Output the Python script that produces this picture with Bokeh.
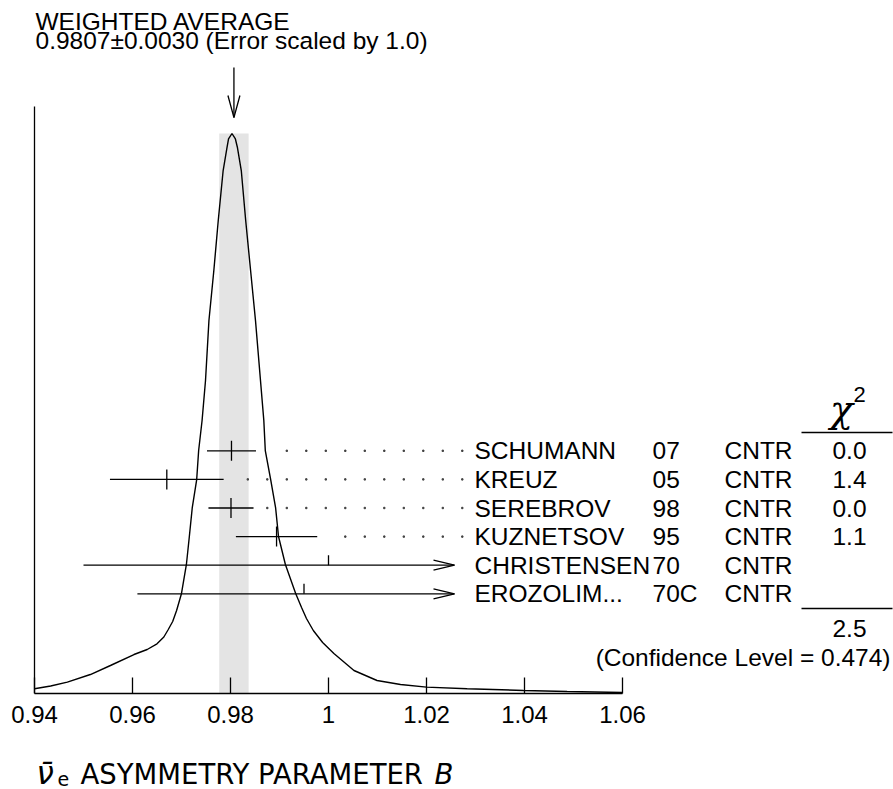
from bokeh.plotting import figure
from bokeh.models import LinearAxis, FixedTicker, Range1d
from bokeh.layouts import column
from bokeh.embed import file_html
from bokeh.resources import INLINE
from bokeh.core.properties import value

# ---------------- data ----------------
curve_x = [0.9400, 0.9433, 0.9467, 0.9514, 0.9555, 0.9603, 0.9630, 0.9650, 0.9664,
           0.9673, 0.9682, 0.9690, 0.9700, 0.9710, 0.9716, 0.9722, 0.9731, 0.9735,
           0.9742, 0.9749, 0.9756, 0.9766, 0.9775, 0.9785, 0.9793, 0.9796, 0.9803,
           0.9810, 0.9814, 0.9822, 0.9831, 0.9841, 0.9851, 0.9868, 0.9871, 0.9882,
           0.9892, 0.9898, 0.9912, 0.9933, 0.9945, 0.9955, 0.9969, 0.9988, 1.0011,
           1.0052, 1.0099, 1.0147, 1.0200, 1.0283, 1.0398, 1.0487, 1.0600]
curve_y = [0.0084, 0.0134, 0.0202, 0.0339, 0.0500, 0.0696, 0.0786, 0.0888, 0.1009,
           0.1143, 0.1286, 0.1482, 0.1786, 0.2304, 0.2804, 0.3321, 0.3821, 0.4339,
           0.4875, 0.5589, 0.6661, 0.7554, 0.8446, 0.9339, 0.9755, 0.9902, 1.0000,
           0.9902, 0.9755, 0.9339, 0.8446, 0.7554, 0.6661, 0.4875, 0.4339, 0.3821,
           0.3321, 0.2804, 0.2304, 0.1786, 0.1536, 0.1339, 0.1125, 0.0911, 0.0714,
           0.0411, 0.0232, 0.0161, 0.0113, 0.0084, 0.0054, 0.0036, 0.0018]

names = ["SCHUMANN", "KREUZ", "SEREBROV", "KUZNETSOV", "CHRISTENSEN", "EROZOLIM..."]
years = ["07", "05", "98", "95", "70", "70C"]
techs = ["CNTR", "CNTR", "CNTR", "CNTR", "CNTR", "CNTR"]
values = [0.9802, 0.9670, 0.9801, 0.9894, 1.0000, 0.9950]
errors = [0.0050, 0.0116, 0.0046, 0.0083, 0.0500, 0.0340]
chi2 = ["0.0", "1.4", "0.0", "1.1", "", ""]

avg_value = 0.9807
avg_error = 0.0030
scale_factor = "1.0"
chi2_total = "2.5"
conf_level = "0.474"

tick_values = [0.94, 0.96, 0.98, 1.0, 1.02, 1.04, 1.06]
tick_labels = ["0.94", "0.96", "0.98", "1", "1.02", "1.04", "1.06"]

# ---------------- geometry (pixels of the picture) ----------------
W, H = 893, 789
H1 = 742                     # main figure height; the rest holds the axis title
PXU = 4900.0                 # px per x unit
PYU = 560.0                  # px per unit of ideogram height
AXIS_X_PX = 34               # picture x of 0.94
AXIS_Y_PX = 693              # picture y of the x axis
BOTTOM = H1 - AXIS_Y_PX
frame_h = H1 - BOTTOM

def px_x(px):
    return tick_values[0] + (px - AXIS_X_PX) / PXU

def px_y(py):
    return (AXIS_Y_PX - py) / PYU

x_start = px_x(0)
x_end = x_start + W / PXU
y_end = frame_h / PYU

FONT = "Liberation Sans"
ROWFS = "24.5px"

p = figure(width=W, height=H1, x_range=Range1d(x_start, x_end), y_range=Range1d(0, y_end),
           x_axis_location=None, y_axis_location=None, toolbar_location=None,
           output_backend="svg", min_border_left=0, min_border_right=0,
           min_border_top=0, min_border_bottom=BOTTOM)
p.outline_line_color = None
p.grid.visible = False

# weighted-average band
p.quad(left=[avg_value - avg_error], right=[avg_value + avg_error], bottom=[0],
       top=[max(curve_y)], fill_color="#e4e4e4", line_color=None)

# ideogram curve
p.line(curve_x, curve_y, line_color="black", line_width=1.4)

# left axis line
p.segment(x0=[tick_values[0]], y0=[0], x1=[tick_values[0]], y1=[px_y(106)],
          line_color="black", line_width=1.3)

# bottom axis
xaxis = LinearAxis(bounds=(tick_values[0], tick_values[-1]),
                   ticker=FixedTicker(ticks=tick_values),
                   major_label_overrides=dict(zip(tick_values, tick_labels)))
xaxis.axis_line_color = "black"
xaxis.axis_line_width = 1.3
xaxis.major_tick_in = 16
xaxis.major_tick_out = 0
xaxis.major_tick_line_width = 1.3
xaxis.minor_tick_line_color = None
xaxis.major_label_text_font = FONT
xaxis.major_label_text_font_size = "24px"
xaxis.major_label_text_color = "black"
xaxis.major_label_standoff = 12
p.add_layout(xaxis, "below")

# weighted-average arrow
ah_len = 22 / PYU
ah_w = 6 / PXU
p.segment(x0=[avg_value], y0=[px_y(67)], x1=[avg_value], y1=[px_y(117)],
          line_color="black", line_width=1.3)
p.multi_line(xs=[[avg_value - ah_w, avg_value, avg_value + ah_w]],
             ys=[[px_y(117) + ah_len, px_y(117), px_y(117) + ah_len]],
             line_color="black", line_width=1.3)

# top text
top = dict(text_font=value(FONT), text_font_size="24.5px", text_baseline="middle",
           text_align="left", text_color="black")
p.text(x=[px_x(35)], y=[px_y(21)], text=["WEIGHTED AVERAGE"], **top)
p.text(x=[px_x(35)], y=[px_y(40)],
       text=["%.4f\u00b1%.4f (Error scaled by %s)" % (avg_value, avg_error, scale_factor)],
       **top)

# measurement rows
ROW0 = px_y(450.3)
ROW_STEP = 28.6 / PYU
rows_y = [ROW0 - i * ROW_STEP for i in range(len(names))]
clip_x = px_x(454)
tick_h = 10 / PYU
dot_x0 = px_x(247.3)
dot_step = 19.5 / PXU
dot_gap = 12 / PXU
n_dots = 12

bar_x0, bar_x1, bar_y = [], [], []
tk_x, tk_y0, tk_y1 = [], [], []
head_xs, head_ys = [], []
dots_x, dots_y = [], []
for v, e, y in zip(values, errors, rows_y):
    lo, hi = v - e, v + e
    right = min(hi, clip_x)
    bar_x0.append(lo); bar_x1.append(right); bar_y.append(y)
    if hi > clip_x:
        tk_x.append(v); tk_y0.append(y); tk_y1.append(y + tick_h)
        head_xs.append([clip_x - 21 / PXU, clip_x, clip_x - 21 / PXU])
        head_ys.append([y + 5 / PYU, y, y - 5 / PYU])
    else:
        tk_x.append(v); tk_y0.append(y - tick_h); tk_y1.append(y + tick_h)
        for k in range(n_dots):
            dx = dot_x0 + k * dot_step
            if dx > hi + dot_gap:
                dots_x.append(dx); dots_y.append(y)

p.segment(x0=bar_x0, y0=bar_y, x1=bar_x1, y1=bar_y, line_color="black", line_width=1.3)
p.segment(x0=tk_x, y0=tk_y0, x1=tk_x, y1=tk_y1, line_color="black", line_width=1.3)
p.multi_line(xs=head_xs, ys=head_ys, line_color="black", line_width=1.3)
p.scatter(x=dots_x, y=dots_y, marker="square", size=1.4, color="#444444")

common = dict(text_font=value(FONT), text_font_size=ROWFS, text_baseline="middle",
              text_color="black")
p.text(x=[px_x(474)] * len(names), y=rows_y, text=names, text_align="left", **common)
p.text(x=[px_x(652)] * len(years), y=rows_y, text=years, text_align="left", **common)
p.text(x=[px_x(724)] * len(techs), y=rows_y, text=techs, text_align="left", **common)
p.text(x=[px_x(849)] * len(chi2), y=rows_y, text=chi2, text_align="center", **common)

# chi2 column header, rules, total
p.text(x=[px_x(841)], y=[px_y(408)], text=["\u03c7"], text_font=value("DejaVu Serif"),
       text_font_size="38px", text_font_style="italic", text_align="center",
       text_baseline="middle", text_color="black")
p.text(x=[px_x(853)], y=[px_y(394)], text=["2"], text_font=value(FONT),
       text_font_size="22px", text_align="left", text_baseline="middle",
       text_color="black")
p.segment(x0=[px_x(801), px_x(801)], y0=[px_y(432), px_y(608)],
          x1=[px_x(892), px_x(892)], y1=[px_y(432), px_y(608)],
          line_color="black", line_width=1.3)
p.text(x=[px_x(849)], y=[px_y(628)], text=[chi2_total], text_align="center", **common)
p.text(x=[px_x(890)], y=[px_y(657)], text=["(Confidence Level = %s)" % conf_level],
       text_align="right", **common)

# ---------------- x-axis title strip ----------------
t = figure(width=W, height=H - H1, x_range=Range1d(0, W), y_range=Range1d(H, H1),
           x_axis_location=None, y_axis_location=None, toolbar_location=None,
           output_backend="svg", min_border_left=0, min_border_right=0,
           min_border_top=0, min_border_bottom=0)
t.outline_line_color = None
t.grid.visible = False
XT = "DejaVu Sans"
t.text(x=[36], y=[772], text=["\u03bd\u0304"], text_font=value(XT), text_font_size="31px",
       text_font_style="italic", text_baseline="middle", text_color="black")
t.text(x=[57], y=[778], text=["e"], text_font=value(XT), text_font_size="19px",
       text_baseline="middle", text_color="black")
t.text(x=[80], y=[773], text=["ASYMMETRY PARAMETER"], text_font=value(XT),
       text_font_size="27.5px", text_baseline="middle", text_color="black")
t.text(x=[434], y=[773], text=["B"], text_font=value(XT), text_font_size="27.5px",
       text_font_style="italic", text_baseline="middle", text_color="black")

layout = column(p, t, spacing=0)
open("out.html", "w").write(file_html(layout, INLINE))
